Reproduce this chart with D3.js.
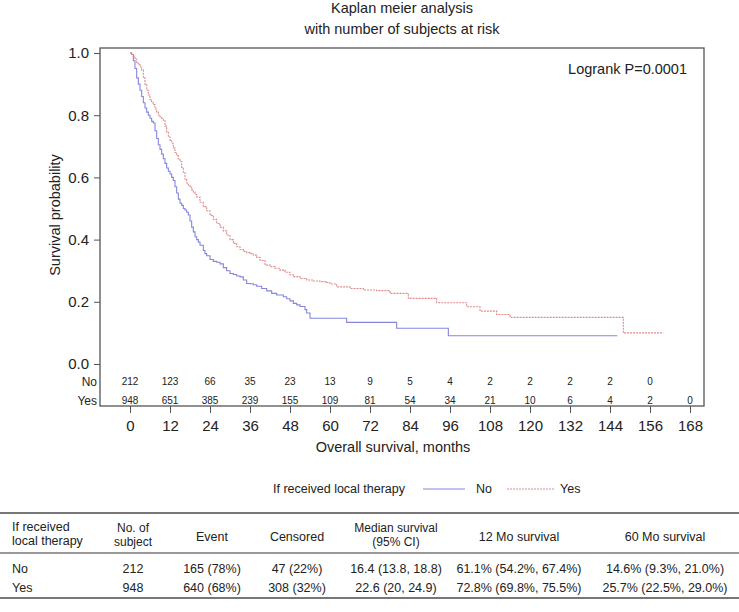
<!DOCTYPE html>
<html>
<head>
<meta charset="utf-8">
<script src="https://cdn.jsdelivr.net/npm/d3@7"></script>
<style>
  body { margin: 0; background: #fff; }
  svg { font-family: "Liberation Sans", Arial, sans-serif; }
</style>
</head>
<body>
<div id="drawing"></div>
<script>
// survival curves (months, probability)
var noTimes = [0, 0.5, 1, 1.5, 2, 2.5, 3, 3.5, 4, 4.5, 5, 5.5, 6, 6.5, 7, 7.5, 8, 8.5, 9, 9.5, 10, 10.5, 11, 11.5, 12, 12.5, 13, 13.5, 14, 14.5, 15, 15.5, 16, 16.5, 17, 17.5, 18, 18.5, 19, 19.5, 20, 20.5, 21, 22, 22.5, 23, 24, 25, 26, 27, 28, 29, 30, 31, 32, 33, 34, 35, 36, 37, 38, 39.5, 41, 42.5, 44, 46, 47, 48, 49, 50, 51, 52.5, 53, 54, 65, 80, 95.5, 146.2];
var noSurv  = [1, 0.995, 0.975, 0.95, 0.92, 0.9, 0.88, 0.86, 0.84, 0.823, 0.81, 0.8, 0.79, 0.78, 0.775, 0.75, 0.725, 0.705, 0.69, 0.675, 0.66, 0.645, 0.63, 0.62, 0.611, 0.6, 0.59, 0.57, 0.55, 0.53, 0.517, 0.51, 0.5, 0.495, 0.488, 0.479, 0.46, 0.44, 0.425, 0.409, 0.4, 0.392, 0.382, 0.365, 0.355, 0.348, 0.336, 0.33, 0.327, 0.322, 0.31, 0.3, 0.291, 0.288, 0.283, 0.28, 0.27, 0.259, 0.258, 0.255, 0.25, 0.243, 0.235, 0.227, 0.222, 0.216, 0.21, 0.203, 0.195, 0.19, 0.185, 0.175, 0.164, 0.147, 0.134, 0.115, 0.091, 0.091];

var yesTimes = [0, 0.5, 1, 1.5, 2, 2.5, 3, 3.5, 4, 4.5, 5, 5.5, 6, 6.5, 7, 7.5, 8, 8.5, 9, 9.5, 10, 10.5, 11, 11.5, 12, 12.5, 13, 13.5, 14, 14.5, 15, 15.5, 16, 16.5, 17, 17.5, 18, 18.5, 19, 19.5, 20, 21, 22, 23, 24, 25, 26, 27, 28, 29, 30, 31, 32, 33, 34, 35, 36, 37, 38, 39, 40.5, 42, 43.5, 45, 46.5, 48, 49, 51, 53, 55, 57, 59, 60, 62, 66, 70, 74, 78, 83.5, 92, 101, 105, 110, 114, 148, 160];
var yesSurv  = [1, 0.995, 0.99, 0.98, 0.97, 0.965, 0.955, 0.945, 0.92, 0.9, 0.88, 0.865, 0.85, 0.84, 0.834, 0.82, 0.81, 0.8, 0.795, 0.79, 0.783, 0.765, 0.745, 0.73, 0.72, 0.71, 0.695, 0.68, 0.67, 0.66, 0.651, 0.632, 0.615, 0.595, 0.582, 0.575, 0.568, 0.56, 0.553, 0.545, 0.537, 0.52, 0.506, 0.493, 0.478, 0.465, 0.452, 0.44, 0.428, 0.414, 0.4, 0.388, 0.377, 0.368, 0.362, 0.358, 0.355, 0.35, 0.343, 0.333, 0.318, 0.313, 0.308, 0.302, 0.295, 0.287, 0.281, 0.275, 0.27, 0.267, 0.265, 0.262, 0.257, 0.248, 0.243, 0.238, 0.236, 0.227, 0.211, 0.197, 0.184, 0.17, 0.159, 0.15, 0.1, 0.1];

// numbers at risk
var riskTimes = [0, 12, 24, 36, 48, 60, 72, 84, 96, 108, 120, 132, 144, 156, 168];
var riskNo  = [212, 123, 66, 35, 23, 13, 9, 5, 4, 2, 2, 2, 2, 0];
var riskYes = [948, 651, 385, 239, 155, 109, 81, 54, 34, 21, 10, 6, 4, 2, 0];

var yTicks = [0, 0.2, 0.4, 0.6, 0.8, 1.0];

// summary table
var tableHeader = [["If received", "local therapy"], ["No. of", "subject"], ["Event"], ["Censored"], ["Median survival", "(95% CI)"], ["12 Mo survival"], ["60 Mo survival"]];
var tableRows = [
  ["No", "212", "165 (78%)", "47 (22%)", "16.4 (13.8, 18.8)", "61.1% (54.2%, 67.4%)", "14.6% (9.3%, 21.0%)"],
  ["Yes", "948", "640 (68%)", "308 (32%)", "22.6 (20, 24.9)", "72.8% (69.8%, 75.5%)", "25.7% (22.5%, 29.0%)"]
];

var width = 739, height = 612;
var frame = {left: 100, right: 704, top: 48, bottom: 406};
var blue = "#8585e0", red = "#e08a8a", ink = "#222";
var font = "Liberation Sans, Arial, sans-serif";

var svg = d3.select("#drawing").append("svg")
  .attr("width", width).attr("height", height);

var xScale = d3.scaleLinear().domain([0, 168]).range([130, 690]);
var yScale = d3.scaleLinear().domain([0, 1]).range([364, 53]);

// title
svg.append("text").attr("x", 402).attr("y", 13).attr("text-anchor", "middle")
  .attr("font-size", 14.5).attr("fill", ink).text("Kaplan meier analysis");
svg.append("text").attr("x", 402).attr("y", 34).attr("text-anchor", "middle")
  .attr("font-size", 14.5).attr("fill", ink).text("with number of subjects at risk");

// frame
svg.append("rect")
  .attr("x", frame.left).attr("y", frame.top)
  .attr("width", frame.right - frame.left).attr("height", frame.bottom - frame.top)
  .attr("fill", "none").attr("stroke", "#555").attr("stroke-width", 1.3);

// y axis
var yAxis = d3.axisLeft(yScale).tickValues(yTicks).tickFormat(d3.format(".1f")).tickSize(6).tickPadding(5);
var yG = svg.append("g").attr("transform", "translate(" + frame.left + ",0)").call(yAxis);
yG.select(".domain").remove();
yG.selectAll("line").attr("stroke", "#555");
yG.selectAll("text").attr("font-size", 15).attr("fill", ink).attr("font-family", font);

svg.append("text")
  .attr("transform", "translate(60,215) rotate(-90)")
  .attr("text-anchor", "middle").attr("font-size", 14.5).attr("fill", ink)
  .text("Survival probability");

// x axis
var xAxis = d3.axisBottom(xScale).tickValues(riskTimes).tickSize(7).tickPadding(7);
var xG = svg.append("g").attr("transform", "translate(0," + frame.bottom + ")").call(xAxis);
xG.select(".domain").remove();
xG.selectAll("line").attr("stroke", "#555");
xG.selectAll("text").attr("font-size", 15).attr("fill", ink).attr("font-family", font);

svg.append("text").attr("x", 393).attr("y", 452).attr("text-anchor", "middle")
  .attr("font-size", 14.5).attr("fill", ink).text("Overall survival, months");

svg.append("text").attr("x", 687).attr("y", 74).attr("text-anchor", "end")
  .attr("font-size", 14.5).attr("fill", ink).text("Logrank P=0.0001");

// curves
var line = d3.line()
  .x(function(d) { return xScale(d[0]); })
  .y(function(d) { return yScale(d[1]); })
  .curve(d3.curveStepAfter);

svg.append("path").attr("d", line(d3.zip(noTimes, noSurv)))
  .attr("fill", "none").attr("stroke", blue).attr("stroke-width", 1.1);
svg.append("path").attr("d", line(d3.zip(yesTimes, yesSurv)))
  .attr("fill", "none").attr("stroke", red).attr("stroke-width", 1.1)
  .attr("stroke-dasharray", "2,1");

// at-risk table
svg.append("text").attr("x", 97).attr("y", 386).attr("text-anchor", "end")
  .attr("font-size", 12).attr("fill", ink).text("No");
svg.append("text").attr("x", 97).attr("y", 405).attr("text-anchor", "end")
  .attr("font-size", 12).attr("fill", ink).text("Yes");

svg.selectAll(".riskNo").data(riskNo).enter().append("text")
  .attr("class", "riskNo")
  .attr("x", function(d, i) { return xScale(riskTimes[i]); })
  .attr("y", 385).attr("text-anchor", "middle").attr("font-size", 10).attr("fill", ink)
  .text(function(d) { return d; });
svg.selectAll(".riskYes").data(riskYes).enter().append("text")
  .attr("class", "riskYes")
  .attr("x", function(d, i) { return xScale(riskTimes[i]); })
  .attr("y", 404).attr("text-anchor", "middle").attr("font-size", 10).attr("fill", ink)
  .text(function(d) { return d; });

// legend
svg.append("text").attr("x", 273).attr("y", 493).attr("font-size", 12.5).attr("fill", ink)
  .text("If received local therapy");
svg.append("line").attr("x1", 423).attr("x2", 465).attr("y1", 489).attr("y2", 489)
  .attr("stroke", blue).attr("stroke-width", 1);
svg.append("text").attr("x", 476).attr("y", 493).attr("font-size", 12.5).attr("fill", ink).text("No");
svg.append("line").attr("x1", 507).attr("x2", 555).attr("y1", 489).attr("y2", 489)
  .attr("stroke", red).attr("stroke-width", 1).attr("stroke-dasharray", "2,1");
svg.append("text").attr("x", 560).attr("y", 493).attr("font-size", 12.5).attr("fill", ink).text("Yes");

// summary table
var colX = [12, 133, 212, 297, 396, 519, 665];
var colAnchor = ["start", "middle", "middle", "middle", "middle", "middle", "middle"];

[513, 553, 598].forEach(function(y, i) {
  svg.append("line").attr("x1", 0).attr("x2", width).attr("y1", y).attr("y2", y)
    .attr("stroke", "#777").attr("stroke-width", i == 1 ? 1.5 : 2);
});

tableHeader.forEach(function(lines, c) {
  var y0 = lines.length == 2 ? (c == 0 ? 531 : 532) : 541;
  var gap = 14;
  var size = lines.length == 2 && c > 0 ? 12 : 12.5;
  lines.forEach(function(t, k) {
    svg.append("text").attr("x", colX[c]).attr("y", y0 + k * gap)
      .attr("text-anchor", colAnchor[c]).attr("font-size", size).attr("fill", ink).text(t);
  });
});

tableRows.forEach(function(row, r) {
  row.forEach(function(t, c) {
    svg.append("text").attr("x", colX[c]).attr("y", 573 + r * 19)
      .attr("text-anchor", colAnchor[c]).attr("font-size", 12.5).attr("fill", ink).text(t);
  });
});
</script>
</body>
</html>
